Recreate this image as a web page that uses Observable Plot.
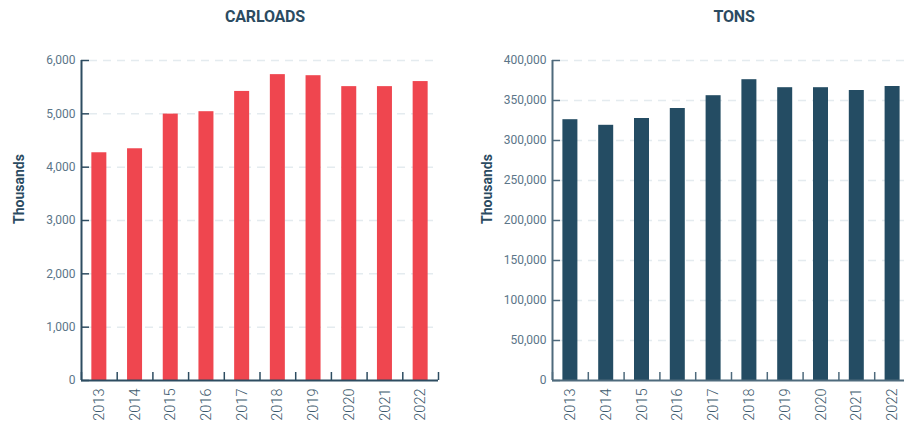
<!DOCTYPE html>
<html>
<head>
<meta charset="utf-8">
<script src="https://cdn.jsdelivr.net/npm/d3@7"></script>
<script src="https://cdn.jsdelivr.net/npm/@observablehq/plot@0.6"></script>
<style>
  html, body { margin: 0; padding: 0; background: #fff; }
  body { width: 904px; height: 422px; overflow: hidden; position: relative; font-family: Roboto, "Open Sans", sans-serif; }
  .panel { position: absolute; top: 0; height: 422px; }
  .title { position: absolute; top: 7px; font: 700 16px Roboto, sans-serif; color: #2b4b61; white-space: nowrap; transform: translateX(-50%); letter-spacing: -0.2px; }
  .ylab { position: absolute; font: 700 14px Roboto, sans-serif; color: #2b4b61; white-space: nowrap; transform: translate(-50%, -50%) rotate(-90deg); }
  .chart { position: absolute; top: 36px; left: 0; }
</style>
</head>
<body>
<div id="left" class="panel" style="left:0;width:452px;">
  <div class="title" style="left:265px;">CARLOADS</div>
  <div class="ylab" style="left:19px;top:189px;">Thousands</div>
  <div class="chart" id="c1"></div>
</div>
<div id="right" class="panel" style="left:452px;width:460px;">
  <div class="title" style="left:282px;">TONS</div>
  <div class="ylab" style="left:35px;top:189px;">Thousands</div>
  <div class="chart" id="c2"></div>
</div>
<script>
const years = [2013, 2014, 2015, 2016, 2017, 2018, 2019, 2020, 2021, 2022];
const carloads = [4270, 4345, 4995, 5040, 5420, 5735, 5715, 5510, 5510, 5605];
const tons = [326000, 319000, 327500, 340000, 356000, 376000, 366000, 366000, 362500, 367500];
const carloadTicks = [0, 1000, 2000, 3000, 4000, 5000, 6000];
const tonTicks = [0, 50000, 100000, 150000, 200000, 250000, 300000, 350000, 400000];

function makeChart({values, ticks, color, axisColor, width, marginLeft, marginRight}) {
  const height = 387, marginTop = 24, marginBottom = 43;
  const plotW = width - marginLeft - marginRight;
  const plotH = height - marginTop - marginBottom;
  const data = years.map((y, i) => ({year: y, value: values[i]}));
  const edges = years.map(y => y - 0.5).concat([years[years.length - 1] + 0.5]);
  const step = plotW / years.length;
  const barInset = (step - 15) / 2;
  const fmt = d3.format(",");
  return Plot.plot({
    width, height, marginTop, marginBottom, marginLeft, marginRight,
    style: {fontFamily: "Roboto, sans-serif", background: "transparent", overflow: "visible"},
    x: {type: "linear", domain: [years[0] - 0.5, years[years.length - 1] + 0.5], axis: null, label: null},
    y: {domain: [ticks[0], ticks[ticks.length - 1]], axis: null, label: null},
    marks: [
      Plot.ruleY(ticks.filter(t => t > 0), {stroke: "#e4ebef", strokeWidth: 1.5, strokeDasharray: "8,6", insetLeft: 8}),
      Plot.rectY(data, {x1: d => d.year - 0.5, x2: d => d.year + 0.5, y: "value", fill: color, insetLeft: barInset, insetRight: barInset}),
      Plot.axisY(ticks, {tickSize: 0, tickPadding: 6, tickFormat: fmt, fontSize: 12, color: "#5b7588", label: null}),
      Plot.tickY(ticks, {y: d => d, stroke: axisColor, strokeWidth: 1.5, insetRight: plotW - 8}),
      Plot.axisX(years, {tickSize: 0, tickPadding: 8, tickRotate: -90, tickFormat: d => String(d), fontSize: 14.5, fontWeight: 300, color: "#3d5a6d", label: null}),
      Plot.tickX(edges, {x: d => d, stroke: axisColor, strokeWidth: 1.5, insetTop: plotH - 8}),
      Plot.ruleX([years[0] - 0.5], {stroke: axisColor, strokeWidth: 2}),
      Plot.ruleY([0], {stroke: axisColor, strokeWidth: 2})
    ]
  });
}

document.getElementById("c1").append(makeChart({
  values: carloads, ticks: carloadTicks, color: "#ef464f", axisColor: "#2d4c61",
  width: 452, marginLeft: 81, marginRight: 14
}));
document.getElementById("c2").append(makeChart({
  values: tons, ticks: tonTicks, color: "#244c63", axisColor: "#4e6a7c",
  width: 460, marginLeft: 100, marginRight: 2
}));
</script>
</body>
</html>
